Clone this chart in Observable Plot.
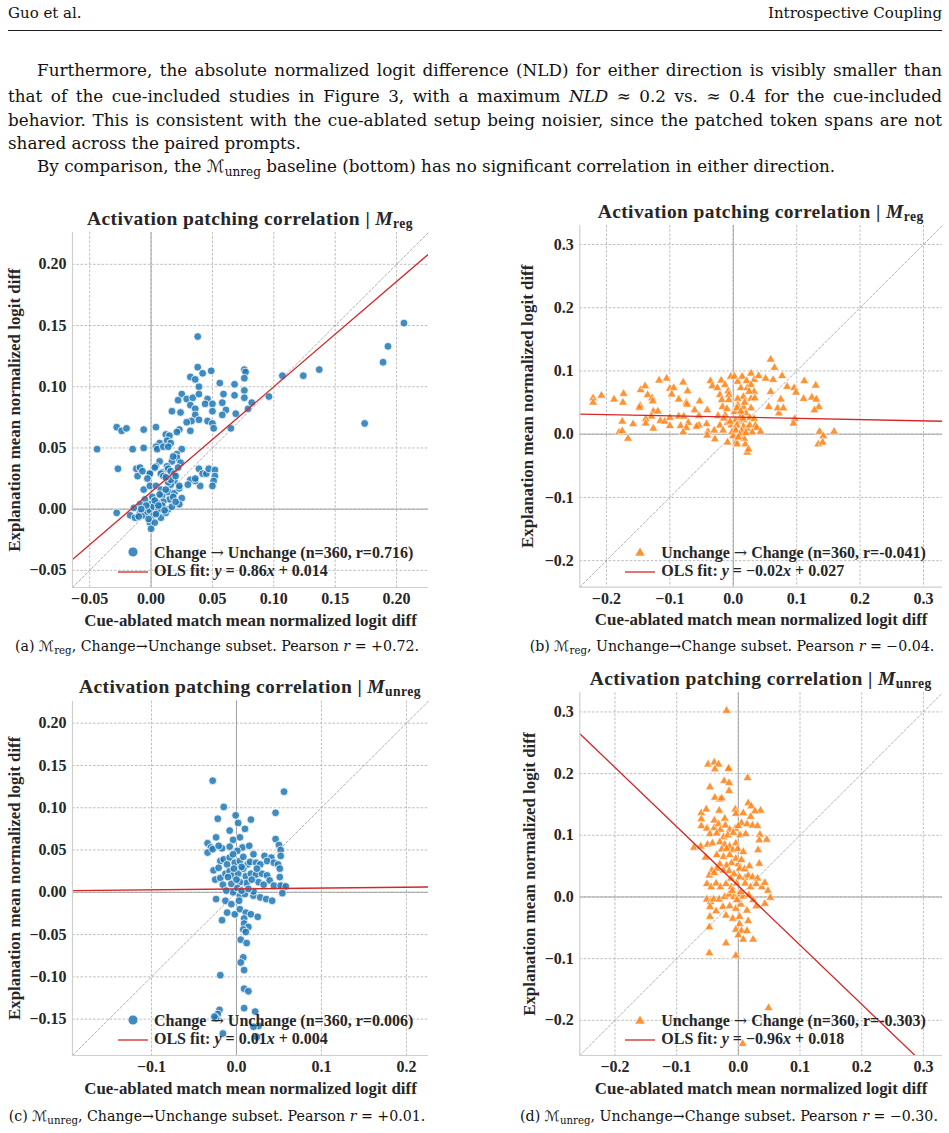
<!DOCTYPE html>
<html>
<head>
<meta charset="utf-8">
<script src="https://cdn.jsdelivr.net/npm/d3@7"></script>
<script src="https://cdn.jsdelivr.net/npm/@observablehq/plot@0.6"></script>
<style>
  body { margin: 0; background: #fff; }
  #page { position: relative; width: 949px; height: 1133px; overflow: hidden;
          font-family: "DejaVu Serif", serif; color: #111; }
  .abs { position: absolute; white-space: nowrap; }
  .line { position: absolute; white-space: nowrap; text-align: justify; text-align-last: justify; font-size: 16.8px; line-height: 24px; }
  .cal { font-family: "DejaVu Serif", "DejaVu Sans", serif; }
  .chart-text { font-family: "Liberation Serif", serif; font-weight: bold; color: #262626; }
  .title { font-size: 19.5px; letter-spacing: 0.4px; }
  .legend-text { font-size: 16px; }
  .arr { font-family: "DejaVu Serif", serif; font-weight: normal; }
  .caption { font-size: 14.2px; }
  svg [aria-label="x-axis label"], svg [aria-label="y-axis label"] { font-size: 16.9px; }
</style>
</head>
<body>
<div id="page"></div>
<script>
// ---- Scatter data: [cue-ablated match NLD, explanation NLD] ----
const regChangeToUnchange = [
  [0.038,0.116],[0.032,0.108],[0.042,0.111],[0.049,0.113],[0.036,0.106],[0.039,0.100],[0.056,0.103],[0.068,0.102],
  [0.076,0.114],[0.077,0.112],[0.076,0.107],[0.076,0.097],[0.076,0.091],[0.059,0.094],[0.068,0.093],[0.058,0.087],
  [0.061,0.081],[0.069,0.078],[0.058,0.077],[0.079,0.082],[0.082,0.087],[0.096,0.092],[0.107,0.109],[0.124,0.109],
  [0.137,0.114],[0.065,0.066],[0.025,0.094],[0.022,0.089],[0.029,0.090],[0.034,0.091],[0.039,0.094],[0.046,0.090],
  [0.044,0.086],[0.050,0.086],[0.032,0.085],[0.036,0.082],[0.050,0.080],[0.017,0.080],[0.024,0.079],[0.036,0.077],
  [0.033,0.072],[0.039,0.073],[0.029,0.071],[0.046,0.072],[0.050,0.070],[0.051,0.066],[0.023,0.065],[0.021,0.063],
  [0.032,0.064],[-0.028,0.067],[-0.024,0.064],[-0.020,0.066],[-0.006,0.065],[0.004,0.067],[0.012,0.061],[0.015,0.060],
  [0.013,0.056],[0.016,0.054],[0.007,0.054],[0.004,0.051],[0.005,0.049],[0.010,0.051],[0.014,0.051],[0.025,0.049],
  [0.021,0.045],[0.021,0.042],[0.024,0.038],[0.017,0.039],[0.007,0.039],[0.013,0.035],[0.004,0.035],[-0.001,0.029],
  [0.003,0.034],[-0.044,0.049],[-0.015,0.049],[-0.006,0.050],[-0.027,0.033],[-0.012,0.033],[-0.009,0.034],[-0.011,0.027],
  [-0.007,0.031],[-0.001,0.029],[-0.003,0.025],[0.009,0.030],[0.008,0.029],[0.010,0.027],[0.014,0.033],[0.016,0.031],
  [0.019,0.029],[0.019,0.023],[0.016,0.020],[0.014,0.022],[0.039,0.033],[0.042,0.029],[0.045,0.029],[0.047,0.033],
  [0.052,0.032],[0.052,0.027],[0.051,0.023],[0.050,0.019],[0.040,0.019],[0.036,0.023],[0.032,0.024],[0.030,0.020],
  [0.036,0.025],[-0.006,0.016],[-0.001,0.019],[0.004,0.019],[0.008,0.016],[0.009,0.011],[0.014,0.014],[0.019,0.013],
  [0.023,0.017],[0.023,0.019],[0.025,0.009],[0.023,0.004],[0.015,0.008],[0.010,0.006],[0.005,0.005],[-0.001,0.004],
  [0.001,0.010],[-0.005,0.008],[-0.009,0.004],[-0.014,0.001],[-0.009,-0.003],[-0.017,-0.005],[-0.028,-0.003],[-0.013,-0.007],
  [-0.006,-0.005],[-0.003,-0.002],[-0.001,-0.001],[0.002,-0.005],[0.005,-0.003],[0.008,-0.007],[0.012,-0.003],[0.014,0.000],
  [0.009,0.003],[0.017,0.002],[-0.001,-0.011],[0.003,-0.011],[0.000,-0.016],[0.038,0.141],[0.206,0.152],[0.193,0.133],
  [0.189,0.120],[0.174,0.070],[0.002,0.002],[0.006,0.000],[-0.004,0.003],[0.011,-0.001],[0.003,0.007],[-0.008,0.000],
  [0.007,0.012],[0.012,0.016],[0.018,0.010],[0.020,0.006],[-0.002,-0.008],[0.004,-0.004],[0.006,0.003],[-0.010,-0.006],
  [0.016,0.024],[0.020,0.027],[0.012,0.026],[0.022,0.034],[0.018,0.043]
];

const regUnchangeToChange = [
  [0.059,0.118],[0.065,0.105],[-0.221,0.057],[-0.221,0.050],[-0.208,0.061],[-0.188,0.055],[-0.173,0.064],[-0.174,0.050],
  [-0.146,0.070],[-0.139,0.076],[-0.147,0.045],[-0.148,0.042],[-0.135,0.062],[-0.128,0.057],[-0.127,0.052],[-0.126,0.036],
  [-0.119,0.036],[-0.129,0.028],[-0.138,0.024],[-0.138,0.017],[-0.126,0.009],[-0.175,0.020],[-0.158,0.016],[-0.180,0.003],
  [-0.175,0.005],[-0.166,-0.007],[-0.117,0.085],[-0.105,0.088],[-0.100,0.072],[-0.094,0.073],[-0.097,0.063],[-0.086,0.055],
  [-0.079,0.082],[-0.072,0.068],[-0.074,0.050],[-0.073,0.047],[-0.115,0.021],[-0.108,0.020],[-0.100,0.026],[-0.100,0.013],
  [-0.086,0.028],[-0.083,0.013],[-0.078,0.028],[-0.071,0.018],[-0.074,0.010],[-0.079,0.003],[-0.061,0.038],[-0.053,0.052],
  [-0.041,0.038],[-0.054,0.029],[-0.054,0.014],[-0.058,0.012],[-0.042,0.016],[-0.040,0.004],[-0.041,-0.002],[-0.029,-0.008],
  [-0.030,0.006],[-0.036,0.084],[-0.033,0.076],[-0.025,0.073],[-0.019,0.085],[-0.013,0.078],[-0.021,0.062],[-0.018,0.054],
  [-0.017,0.043],[-0.008,0.068],[-0.007,0.062],[-0.004,0.091],[0.002,0.091],[-0.007,0.054],[-0.024,0.029],[-0.021,0.014],
  [-0.013,0.030],[-0.009,0.018],[-0.016,0.006],[-0.009,-0.013],[0.005,-0.012],[0.006,-0.016],[0.019,-0.016],[0.022,-0.029],
  [0.024,-0.024],[0.017,-0.007],[0.007,0.083],[0.014,0.091],[0.021,0.084],[0.028,0.096],[0.033,0.086],[0.040,0.092],
  [0.051,0.088],[0.063,0.086],[0.077,0.092],[0.012,0.073],[0.022,0.073],[0.028,0.078],[0.033,0.067],[0.025,0.067],
  [0.016,0.059],[0.007,0.056],[0.028,0.056],[0.034,0.057],[0.007,0.046],[0.016,0.043],[0.028,0.041],[0.002,0.035],
  [0.006,0.041],[0.013,0.030],[0.020,0.033],[0.026,0.026],[0.033,0.024],[0.004,0.022],[0.009,0.020],[0.017,0.022],
  [-0.003,0.014],[0.002,0.010],[0.006,0.014],[0.016,0.012],[0.022,0.009],[0.026,0.014],[0.035,0.014],[0.037,0.010],
  [0.043,0.004],[-0.002,0.003],[0.013,0.005],[0.030,0.003],[0.000,-0.003],[0.056,0.043],[0.059,0.067],[0.072,0.033],
  [0.070,0.041],[0.079,0.041],[0.075,0.055],[0.085,0.075],[0.096,0.073],[0.099,0.066],[0.112,0.084],[0.111,0.056],
  [0.097,0.024],[0.095,0.017],[0.124,0.058],[0.130,0.077],[0.131,0.055],[0.135,0.043],[0.128,0.038],[0.136,0.004],
  [0.142,-0.003],[0.159,0.004],[0.134,-0.016],[0.141,-0.013],[0.004,0.006],[0.010,0.000],[-0.005,0.020],[0.015,0.025],
  [0.020,0.002],[0.008,-0.005],[0.012,0.036],[-0.010,0.040],[0.018,0.050],[-0.015,0.025]
];

const unregChangeToUnchange = [
  [-0.028,0.132],[0.056,0.119],[-0.015,0.101],[-0.001,0.091],[-0.022,0.087],[0.017,0.086],[0.002,0.082],[0.046,0.094],
  [0.010,0.075],[-0.008,0.073],[-0.024,0.065],[0.004,0.065],[-0.004,0.062],[0.046,0.063],[0.050,0.056],[0.052,0.050],
  [0.052,0.043],[-0.034,0.058],[-0.030,0.053],[-0.034,0.047],[-0.028,0.051],[-0.017,0.052],[-0.021,0.055],[-0.008,0.054],
  [0.007,0.053],[0.015,0.055],[0.001,0.049],[0.020,0.045],[0.033,0.043],[0.041,0.041],[-0.019,0.037],[-0.015,0.039],
  [-0.008,0.041],[-0.004,0.045],[-0.027,0.026],[-0.021,0.029],[-0.011,0.033],[-0.002,0.035],[0.004,0.037],[0.013,0.033],
  [0.016,0.036],[0.023,0.035],[0.028,0.033],[0.036,0.037],[0.044,0.035],[0.049,0.033],[0.051,0.028],[-0.025,0.015],
  [-0.019,0.017],[-0.013,0.022],[-0.008,0.025],[-0.004,0.020],[0.002,0.022],[0.008,0.028],[0.011,0.019],[0.017,0.022],
  [0.023,0.021],[0.030,0.022],[0.036,0.020],[0.039,0.014],[0.026,0.012],[0.012,0.011],[0.004,0.012],[-0.006,0.010],
  [-0.016,0.009],[0.051,0.018],[0.044,0.008],[0.055,0.007],[0.032,0.009],[0.052,0.008],[0.058,0.007],[-0.024,-0.008],
  [-0.013,-0.010],[-0.006,-0.014],[0.004,-0.004],[0.010,-0.002],[0.020,-0.004],[0.028,-0.006],[0.035,-0.008],[0.042,-0.010],
  [0.054,-0.001],[-0.004,0.000],[0.001,0.005],[0.006,0.002],[0.020,0.001],[-0.011,-0.024],[-0.002,-0.026],[0.004,-0.020],
  [0.011,-0.024],[0.017,-0.026],[0.025,-0.029],[-0.017,-0.033],[0.009,-0.031],[0.009,-0.037],[0.014,-0.041],[0.008,-0.044],
  [0.011,-0.047],[0.005,-0.056],[0.012,-0.060],[0.008,-0.077],[0.005,-0.083],[0.009,-0.092],[-0.019,-0.098],[0.009,-0.114],
  [0.014,-0.117],[0.009,-0.137],[0.022,-0.141],[-0.020,-0.139],[-0.022,-0.144],[-0.024,-0.149],[-0.026,-0.147],[0.026,-0.158],
  [0.020,-0.159],[-0.016,-0.167],[0.024,-0.171],[0.000,0.015],[0.006,0.030],[-0.010,0.018],[0.014,0.004],[0.003,-0.010],
  [-0.012,0.002],[0.018,0.015],[0.008,0.042],[-0.003,0.028],[0.024,0.028]
];

const unregUnchangeToChange = [
  [-0.019,0.302],[0.015,0.193],[-0.015,0.208],[0.036,0.140],[-0.049,0.215],[-0.039,0.218],[-0.032,0.215],[-0.038,0.207],
  [-0.016,0.208],[-0.046,0.178],[-0.023,0.188],[-0.015,0.185],[-0.015,0.172],[-0.038,0.161],[-0.030,0.158],[-0.027,0.160],
  [-0.060,0.136],[-0.052,0.142],[-0.031,0.140],[-0.060,0.126],[-0.039,0.124],[-0.022,0.127],[-0.005,0.142],[-0.004,0.135],
  [0.008,0.136],[0.016,0.152],[0.021,0.147],[0.027,0.139],[0.020,0.130],[0.005,0.120],[0.014,0.118],[0.023,0.116],
  [0.031,0.115],[-0.060,0.115],[-0.051,0.111],[-0.039,0.112],[-0.032,0.118],[-0.029,0.109],[-0.021,0.116],[-0.014,0.109],
  [-0.005,0.111],[0.000,0.115],[-0.046,0.102],[-0.035,0.103],[-0.024,0.097],[-0.017,0.100],[-0.008,0.104],[0.003,0.100],
  [0.012,0.102],[0.035,0.101],[0.034,0.092],[0.046,0.093],[0.032,0.076],[-0.072,0.080],[-0.061,0.082],[-0.050,0.085],
  [-0.042,0.087],[-0.030,0.089],[-0.022,0.085],[-0.014,0.082],[-0.004,0.087],[-0.027,0.077],[-0.019,0.078],[-0.009,0.076],
  [-0.001,0.078],[0.008,0.073],[-0.053,0.064],[-0.035,0.068],[-0.024,0.065],[-0.014,0.068],[-0.004,0.062],[-0.011,0.055],
  [0.000,0.053],[-0.019,0.051],[-0.030,0.053],[-0.035,0.046],[-0.043,0.043],[-0.047,0.035],[-0.039,0.039],[0.034,0.054],
  [-0.024,0.043],[-0.015,0.042],[-0.007,0.037],[0.002,0.046],[0.002,0.032],[0.011,0.031],[0.016,0.035],[0.023,0.032],
  [0.031,0.030],[-0.051,0.021],[-0.044,0.016],[-0.036,0.022],[-0.029,0.016],[-0.020,0.021],[-0.011,0.016],[-0.003,0.022],
  [0.011,0.022],[0.020,0.016],[0.029,0.021],[0.038,0.016],[0.043,0.023],[0.048,0.010],[0.052,-0.001],[-0.051,-0.004],
  [-0.045,-0.008],[-0.040,-0.004],[-0.031,-0.004],[-0.022,0.000],[-0.015,0.004],[-0.007,0.000],[0.000,0.004],[0.008,0.001],
  [0.017,0.003],[0.024,-0.005],[0.029,-0.015],[0.043,-0.011],[-0.046,-0.016],[-0.036,-0.023],[-0.025,-0.016],[-0.014,-0.015],
  [-0.004,-0.019],[0.004,-0.012],[0.014,-0.022],[-0.046,-0.032],[-0.020,-0.030],[-0.009,-0.035],[0.002,-0.032],[0.016,-0.039],
  [0.002,-0.044],[-0.004,-0.053],[0.005,-0.055],[-0.047,-0.049],[0.000,-0.062],[0.014,-0.055],[0.024,-0.069],[0.008,-0.069],
  [-0.020,-0.075],[-0.047,-0.091],[-0.004,-0.095],[0.049,-0.180],[0.007,-0.238],[-0.010,0.010],[0.005,0.060],[0.010,0.045],
  [-0.012,0.030],[0.004,0.008],[0.018,0.050],[-0.002,-0.005]
];

// ---- OLS fits and summary statistics (panels a, b, c, d) ----
const fitSlopes = [0.86, -0.02, 0.01, -0.96];
const fitIntercepts = [0.014, 0.027, 0.004, 0.018];
const sampleSizes = [360, 360, 360, 360];
const pearsonR = [0.716, -0.041, 0.006, -0.303];

// ---- Tick values ----
const ticksRegChange = [-0.05, 0, 0.05, 0.10, 0.15, 0.20];
const ticksTenths = [-0.2, -0.1, 0, 0.1, 0.2, 0.3];
const ticksUnregChangeX = [-0.1, 0, 0.1, 0.2];
const ticksUnregChangeY = [-0.15, -0.10, -0.05, 0, 0.05, 0.10, 0.15, 0.20];

// ---- Panel layout ----
const panels = [
  {tag: "a", model: "reg", dir: "change", points: regChangeToUnchange,
   left: 0, top: 195, width: 470, height: 440, margin: [37, 42, 48, 72],
   domain: [-0.064, 0.226], xTicks: ticksRegChange, yTicks: ticksRegChange, xFmt: ".2f", yFmt: ".2f",
   yLabelOffset: 65, captionX: 217, captionY: 647},
  {tag: "b", model: "reg", dir: "unchange", points: regUnchangeToChange,
   left: 470, top: 195, width: 479, height: 440, margin: [30, 7, 48.3, 109.3],
   domain: [-0.242, 0.330], xTicks: ticksTenths, yTicks: ticksTenths, xFmt: ".1f", yFmt: ".1f",
   yLabelOffset: 59, captionX: 732, captionY: 647},
  {tag: "c", model: "unreg", dir: "change", points: unregChangeToUnchange,
   left: 0, top: 660, width: 470, height: 440, margin: [40.7, 42, 45, 72],
   domain: [-0.193, 0.226], xTicks: ticksUnregChangeX, yTicks: ticksUnregChangeY, xFmt: ".1f", yFmt: ".2f",
   yLabelOffset: 65, captionX: 217, captionY: 1117},
  {tag: "d", model: "unreg", dir: "unchange", points: unregUnchangeToChange,
   left: 470, top: 660, width: 479, height: 440, margin: [32.3, 7, 45, 109.3],
   domain: [-0.257, 0.331], xTicks: ticksTenths, yTicks: ticksTenths, xFmt: ".1f", yFmt: ".1f",
   yLabelOffset: 57, captionX: 729, captionY: 1117}
];

const BLUE = "#1f77b4", ORANGE = "#ff7f0e", RED = "#d62728";
const page = document.getElementById("page");

function addDiv(html, css, cls = "abs") {
  const d = document.createElement("div");
  d.className = cls;
  d.innerHTML = html;
  Object.assign(d.style, css);
  page.append(d);
  return d;
}

// ---- Running header and body text ----
addDiv("Guo et al.", {left: "8px", top: "4px", fontSize: "15px"});
addDiv("Introspective Coupling", {right: "7px", top: "4px", fontSize: "15px"});
addDiv("", {left: "8px", top: "30px", width: "934px", height: "0", borderTop: "1px solid #222"});

const bodyLines = [
  {html: "Furthermore, the absolute normalized logit difference (NLD) for either direction is visibly smaller than", left: 37, right: 942, top: 58, justify: true},
  {html: "that of the cue-included studies in Figure 3, with a maximum <i>NLD</i> \u2248 0.2 vs. \u2248 0.4 for the cue-included", left: 8, right: 942, top: 84, justify: true},
  {html: "behavior. This is consistent with the cue-ablated setup being noisier, since the patched token spans are not", left: 8, right: 942, top: 108, justify: true},
  {html: "shared across the paired prompts.", left: 8, top: 131, justify: false},
  {html: "By comparison, the <span class=\"cal\">\u2133</span><sub style=\"font-size:0.72em\">unreg</sub> baseline (bottom) has no significant correlation in either direction.", left: 37, top: 154, justify: false}
];
for (const l of bodyLines) {
  const css = {left: l.left + "px", top: l.top + "px"};
  if (l.justify) css.width = (l.right - l.left) + "px";
  else css.textAlignLast = "auto";
  addDiv(l.html, css, "line");
}

// ---- Charts ----
const fmtSlope = d3.format(".2f"), fmtIntercept = d3.format(".3f"), fmtCaption = d3.format("+.2f");

panels.forEach((p, i) => {
  const [mt, mr, mb, ml] = p.margin;
  const [lo, hi] = p.domain;
  const diagonal = [{x: lo, y: lo}, {x: hi, y: hi}];
  const fit = [lo, hi].map(x => ({x, y: fitSlopes[i] * x + fitIntercepts[i]}));
  const isChange = p.dir === "change";
  const gridStyle = {stroke: "#b8b8b8", strokeOpacity: 1, strokeWidth: 0.9, strokeDasharray: "2.6,1.6"};

  const chart = Plot.plot({
    width: p.width, height: p.height,
    marginTop: mt, marginRight: mr, marginBottom: mb, marginLeft: ml,
    x: {domain: p.domain},
    y: {domain: p.domain},
    style: {fontFamily: "'Liberation Serif', serif", fontWeight: "bold", fontSize: "16px",
            color: "#262626", background: "transparent", overflow: "visible"},
    marks: [
      Plot.gridX(p.xTicks, gridStyle),
      Plot.gridY(p.yTicks, gridStyle),
      Plot.ruleX([0], {stroke: "#9c9c9c", strokeWidth: 0.9}),
      Plot.ruleY([0], {stroke: "#9c9c9c", strokeWidth: 0.9}),
      Plot.line(diagonal, {x: "x", y: "y", stroke: "#9c9c9c", strokeWidth: 0.8, strokeDasharray: "2.5,2"}),
      Plot.dot(p.points, {
        x: d => d[0], y: d => d[1],
        r: isChange ? 3.9 : 3.3,
        symbol: isChange ? "circle" : "triangle",
        fill: isChange ? BLUE : ORANGE, fillOpacity: 0.85,
        stroke: "white", strokeWidth: isChange ? 0.8 : 0.6
      }),
      Plot.line(fit, {x: "x", y: "y", stroke: RED, strokeWidth: 1.3, clip: true}),
      Plot.ruleX([lo], {stroke: "#cfcfcf", strokeWidth: 1.2}),
      Plot.ruleY([lo], {stroke: "#cfcfcf", strokeWidth: 1.2}),
      Plot.axisX(p.xTicks, {tickSize: 0, tickPadding: 5, tickFormat: d3.format(p.xFmt),
        label: "Cue-ablated match mean normalized logit diff", labelAnchor: "center", labelArrow: "none", labelOffset: 38}),
      Plot.axisY(p.yTicks, {tickSize: 0, tickPadding: 6, tickFormat: d3.format(p.yFmt),
        label: "Explanation mean normalized logit diff", labelAnchor: "center", labelArrow: "none", labelOffset: p.yLabelOffset})
    ]
  });
  Object.assign(chart.style, {position: "absolute", left: p.left + "px", top: p.top + "px"});
  page.append(chart);

  // frame edges in page coordinates
  const fLeft = p.left + ml, fRight = p.left + p.width - mr;
  const fTop = p.top + mt, fBottom = p.top + p.height - mb;
  const sub = p.model;

  // title
  addDiv(`Activation patching correlation | <i>M</i><sub style="font-size:0.7em;vertical-align:-0.25em">${sub}</sub>`,
    {left: ((fLeft + fRight) / 2) + "px", top: (fTop - 12.5) + "px", transform: "translate(-50%,-50%)"},
    "abs chart-text title");

  // legend
  const row1 = fBottom - 35, row2 = fBottom - 16;
  const mx = fLeft + 61;
  const marker = isChange
    ? `<svg width="12" height="12"><circle cx="6" cy="6" r="5" fill="${BLUE}" fill-opacity="0.85" stroke="white" stroke-width="0.8"/></svg>`
    : `<svg width="12" height="12"><path d="M6,1 L11.2,10 L0.8,10 Z" fill="${ORANGE}" fill-opacity="0.85" stroke="white" stroke-width="0.6"/></svg>`;
  addDiv(marker, {left: (mx - 6) + "px", top: (row1 - 6) + "px", lineHeight: "0"});
  addDiv(`<svg width="30" height="4"><line x1="0" y1="2" x2="30" y2="2" stroke="${RED}" stroke-width="1.3"/></svg>`,
    {left: (fLeft + 46) + "px", top: (row2 - 2) + "px", lineHeight: "0"});
  const dirText = isChange ? "Change <span class=\"arr\">\u2192</span> Unchange" : "Unchange <span class=\"arr\">\u2192</span> Change";
  addDiv(`${dirText} (n=${sampleSizes[i]}, r=${pearsonR[i].toFixed(3)})`,
    {left: (fLeft + 82) + "px", top: row1 + "px", transform: "translateY(-50%)"}, "abs chart-text legend-text");
  addDiv(`OLS fit: <i>y</i> = ${fmtSlope(fitSlopes[i])}<i>x</i> + ${fmtIntercept(fitIntercepts[i])}`,
    {left: (fLeft + 82) + "px", top: row2 + "px", transform: "translateY(-50%)"}, "abs chart-text legend-text");

  // caption
  const dirCap = isChange ? "Change\u2192Unchange" : "Unchange\u2192Change";
  addDiv(`(${p.tag}) <span class="cal">\u2133</span><sub style="font-size:0.72em">${sub}</sub>, ${dirCap} subset. Pearson <i>r</i> = ${fmtCaption(pearsonR[i])}.`,
    {left: p.captionX + "px", top: p.captionY + "px", transform: "translate(-50%,-50%)"}, "abs caption");
});
</script>
</body>
</html>
